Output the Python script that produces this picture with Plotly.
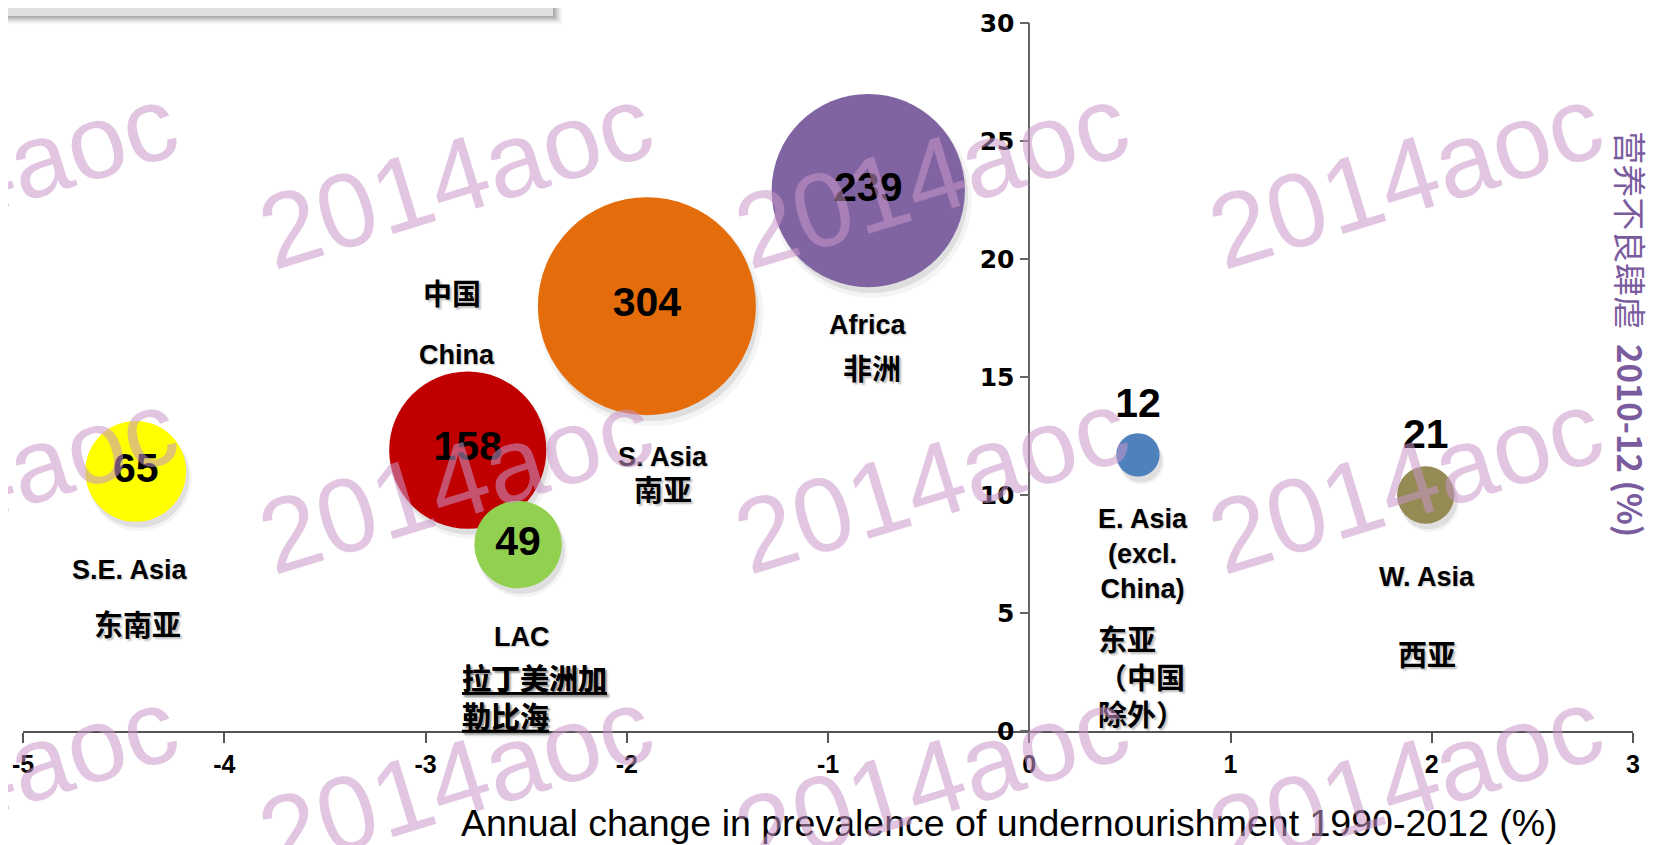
import plotly.graph_objects as go

#data:

regions = ['S.E. Asia', 'China', 'LAC', 'S. Asia', 'Africa', 'E. Asia', 'W. Asia']
annual_change = [-4.44, -2.79, -2.54, -1.90, -0.80, 0.54, 1.97]
prevalence = [11.0, 11.9, 7.9, 18.0, 22.9, 11.7, 10.0]
undernourished = [65, 158, 49, 304, 239, 12, 21]

x_ticks = [-5, -4, -3, -2, -1, 0, 1, 2, 3]
x_tick_labels = ['-5', '-4', '-3', '-2', '-1', '0', '1', '2', '3']
y_ticks = [0, 5, 10, 15, 20, 25, 30]

#styles:

bubble_colors = ['#FFFF00', '#C00000', '#92D050', '#E46C0A', '#8064A2', '#4F81BD', '#948A54']
value_pos = ['middle center'] * 5 + ['top center'] * 2

max_diam = 218
sizeref = 2 * max(undernourished) / max_diam ** 2

fig = go.Figure()

#bubble shadows:

for dx, dy, grow, alpha in [(0.02, -0.32, 6, 0.06), (0.015, -0.25, 0, 0.12)]:
    fig.add_trace(go.Scatter(
        x=[v + dx for v in annual_change], y=[v + dy for v in prevalence],
        mode='markers', hoverinfo='skip', showlegend=False,
        marker=dict(size=undernourished, sizemode='area', sizeref=sizeref * (1 - grow / 100),
                    color='rgba(0,0,0,%s)' % alpha, line=dict(width=0))))

#bubbles:

fig.add_trace(go.Scatter(
    x=annual_change, y=prevalence, mode='markers+text', showlegend=False,
    text=[str(v) for v in undernourished], textposition=value_pos,
    textfont=dict(family='Liberation Sans, Arial', size=41, color='black', weight='bold'),
    marker=dict(size=undernourished, sizemode='area', sizeref=sizeref,
                color=bubble_colors, opacity=1, line=dict(width=0)),
    hovertext=regions))

#region labels (data coords):

en_font = dict(family='Liberation Sans, Arial', size=27, color='black', weight='bold',
               shadow='1px 1px 2px rgba(0,0,0,0.25)')
cn_font = dict(family='Noto Sans CJK SC', size=29, color='black', weight='bold',
               shadow='2px 2px 2px rgba(0,0,0,0.25)')

labels = [
    ('中国', -2.869, 18.60, cn_font, 'center'),
    ('China', -2.844, 15.93, en_font, 'center'),
    ('S.E. Asia', -4.468, 6.82, en_font, 'center'),
    ('东南亚', -4.429, 4.58, cn_font, 'center'),
    ('LAC', -2.521, 3.98, en_font, 'center'),
    ('S. Asia', -1.821, 11.61, en_font, 'center'),
    ('南亚', -1.821, 10.30, cn_font, 'center'),
    ('Africa', -0.802, 17.20, en_font, 'center'),
    ('非洲', -0.782, 15.42, cn_font, 'center'),
    ('E. Asia<br>(excl.<br>China)', 0.564, 7.52, en_font, 'center'),
    ('东亚<br>（中国<br>除外）', 0.330, 2.35, cn_font, 'left'),
    ('W. Asia', 1.975, 6.53, en_font, 'center'),
    ('西亚', 1.975, 3.31, cn_font, 'center'),
]

for txt, x, y, f, anchor in labels:
    fig.add_annotation(x=x, y=y, xref='x', yref='y', text=txt, showarrow=False,
                       xanchor=anchor, yanchor='middle', align=anchor, font=f)

fig.add_annotation(x=-2.83, y=1.50, xref='x', yref='y', text='拉丁美洲加<br>勒比海',
                   showarrow=False, xanchor='left', yanchor='middle', align='left',
                   font=dict(cn_font, lineposition='under'))

#axis titles:

fig.add_annotation(x=0.613, y=-0.13, xref='paper', yref='paper',
                   text='Annual change in prevalence of undernourishment 1990-2012 (%)',
                   showarrow=False, xanchor='center', yanchor='middle',
                   font=dict(family='Liberation Sans, Arial', size=37.5, color='black'))

fig.add_annotation(x=0.999, y=0.56, xref='paper', yref='paper', textangle=90,
                   text='营养不良肆虐  <b>2010-12 (%)</b>', showarrow=False,
                   xanchor='center', yanchor='middle',
                   font=dict(family='Noto Sans CJK SC', size=33, color='#7A5C9E'))

#watermarks:

for wx in [-0.0261, 0.2689, 0.5640, 0.8590]:
    for wy in [0.783, 0.352, -0.068]:
        fig.add_annotation(x=wx, y=wy, xref='paper', yref='paper', text='2014aoc',
                           showarrow=False, textangle=-17, xanchor='center', yanchor='middle',
                           font=dict(family='Liberation Sans, Arial', size=105,
                                     color='rgba(200,150,200,0.55)'))

#grey box top-left:

for i, a in enumerate([0.10, 0.10, 0.08, 0.05, 0.03]):
    fig.add_shape(type='rect', xref='paper', yref='paper', layer='above',
                  x0=-0.02, x1=0.3292 + (i + 1) * 0.0012, y0=1.0099 - (i + 1) * 0.0023, y1=1.05,
                  fillcolor='rgba(0,0,0,%s)' % a, line=dict(width=0))
fig.add_shape(type='rect', xref='paper', yref='paper', layer='above',
              x0=-0.02, x1=0.3292, y0=1.0099, y1=1.05,
              fillcolor='#DFDFDF', line=dict(width=0))

#page body has an 8px margin, so the figure is a bit smaller than the window:

fig.update_layout(
    width=1647, height=837,
    margin=dict(l=15, r=22, t=15, b=114),
    paper_bgcolor='white', plot_bgcolor='white',
    xaxis=dict(range=[-5, 3], tickvals=x_ticks, ticktext=x_tick_labels, automargin=False,
               showline=True, linecolor='#555555', linewidth=1.5,
               ticks='outside', ticklen=10, tickcolor='#555555', tickwidth=1.5,
               showgrid=False, zeroline=False,
               tickfont=dict(family='Liberation Sans, Arial', size=25, color='black', weight='bold')),
    yaxis=dict(range=[0, 30], tickvals=y_ticks, anchor='free', position=0.625, automargin=False,
               showline=True, linecolor='#666666', linewidth=1.5,
               ticks='outside', ticklen=9, tickcolor='#666666', tickwidth=1.5,
               showgrid=False, zeroline=False,
               tickfont=dict(family='DejaVu Sans', size=25, color='black', weight='bold')),
)

fig.write_html("out.html")
